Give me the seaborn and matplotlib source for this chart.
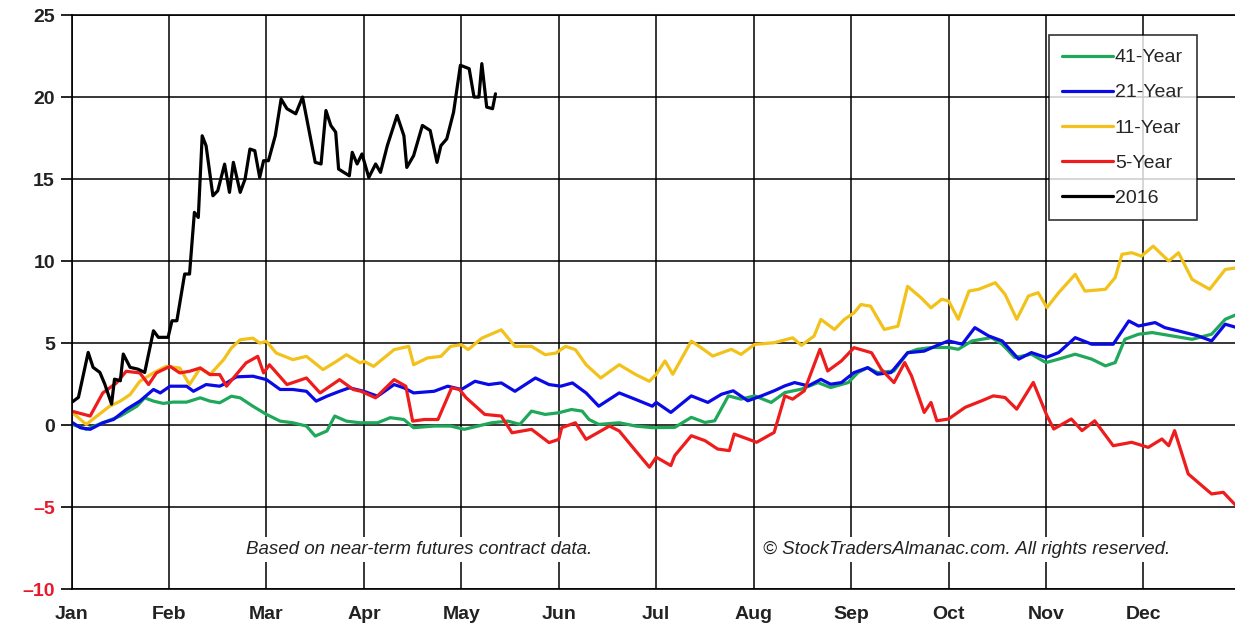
import numpy as np
import pandas as pd
import matplotlib
matplotlib.use("Agg")
import matplotlib.pyplot as plt
import seaborn as sns

# x positions are in months since Jan 1 (0 = Jan, 1 = Feb, ...)
months = ["Jan", "Feb", "Mar", "Apr", "May", "Jun", "Jul", "Aug", "Sep", "Oct", "Nov", "Dec"]

x_41 = [0, 0.15, 0.32, 0.5, 0.67, 0.75, 0.84, 0.94, 1.04, 1.18, 1.32, 1.42, 1.52, 1.64, 1.73, 1.86,
        2.0, 2.14, 2.27, 2.41, 2.5, 2.62, 2.7, 2.82, 2.96, 3.14, 3.27, 3.41, 3.51, 3.72, 3.89, 4.03,
        4.17, 4.31, 4.48, 4.6, 4.72, 4.86, 5.0, 5.13, 5.24, 5.31, 5.41, 5.62, 5.79, 5.96, 6.19, 6.36,
        6.5, 6.6, 6.74, 6.87, 7.01, 7.18, 7.32, 7.49, 7.66, 7.79, 7.97, 8.07, 8.17, 8.27, 8.44, 8.58,
        8.68, 8.83, 9.0, 9.1, 9.24, 9.44, 9.55, 9.68, 9.85, 10.0, 10.13, 10.3, 10.47, 10.61, 10.71,
        10.81, 10.95, 11.09, 11.29, 11.5, 11.7, 11.84, 11.96]
y_41 = [0.05, -0.26, 0.14, 0.55, 1.15, 1.66, 1.46, 1.32, 1.4, 1.4, 1.66, 1.46, 1.36, 1.76, 1.66, 1.15,
        0.65, 0.24, 0.14, -0.06, -0.67, -0.36, 0.55, 0.24, 0.14, 0.14, 0.45, 0.34, -0.16, -0.06, -0.06, -0.26,
        -0.06, 0.14, 0.24, 0.04, 0.85, 0.65, 0.75, 0.95, 0.85, 0.34, 0.04, 0.14, -0.06, -0.16, -0.14, 0.47,
        0.16, 0.26, 1.78, 1.58, 1.78, 1.38, 1.98, 2.19, 2.59, 2.29, 2.59, 3.2, 3.5, 3.2, 3.3, 4.41,
        4.62, 4.73, 4.73, 4.62, 5.13, 5.33, 4.93, 4.12, 4.32, 3.81, 4.02, 4.32, 4.02, 3.61, 3.81,
        5.23, 5.54, 5.64, 5.44, 5.23, 5.54, 6.45, 6.75]

x_21 = [0, 0.09, 0.19, 0.32, 0.43, 0.56, 0.7, 0.84, 0.91, 1.01, 1.18, 1.25, 1.38, 1.52, 1.59, 1.69,
        1.86, 2.0, 2.14, 2.27, 2.41, 2.51, 2.62, 2.75, 2.85, 3.0, 3.14, 3.31, 3.41, 3.51, 3.72, 3.86,
        4.0, 4.14, 4.28, 4.41, 4.55, 4.76, 4.9, 5.02, 5.14, 5.28, 5.41, 5.62, 5.79, 5.96, 6.0, 6.15,
        6.36, 6.53, 6.67, 6.79, 6.94, 7.08, 7.21, 7.32, 7.42, 7.56, 7.69, 7.79, 7.9, 8.03, 8.17, 8.27,
        8.41, 8.58, 8.75, 8.9, 9.0, 9.14, 9.27, 9.41, 9.55, 9.72, 9.85, 10.0, 10.13, 10.3, 10.47,
        10.69, 10.85, 10.95, 11.12, 11.22, 11.36, 11.56, 11.7, 11.84, 11.96]
y_21 = [0.18, -0.16, -0.26, 0.14, 0.34, 0.95, 1.46, 2.17, 1.96, 2.37, 2.37, 2.06, 2.47, 2.37, 2.57, 2.94,
        2.98, 2.77, 2.17, 2.17, 2.06, 1.46, 1.76, 2.06, 2.27, 2.06, 1.76, 2.47, 2.27, 1.96, 2.06, 2.37,
        2.17, 2.67, 2.47, 2.57, 2.06, 2.87, 2.47, 2.37, 2.57, 1.96, 1.15, 1.96, 1.56, 1.15, 1.38, 0.77,
        1.78, 1.38, 1.88, 2.09, 1.48, 1.78, 2.09, 2.39, 2.59, 2.39, 2.79, 2.49, 2.59, 3.2, 3.5, 3.1,
        3.2, 4.41, 4.51, 4.9, 5.13, 4.93, 5.94, 5.44, 5.13, 4.02, 4.42, 4.12, 4.42, 5.33, 4.93,
        4.93, 6.35, 6.04, 6.25, 5.94, 5.74, 5.44, 5.13, 6.15, 5.94]

x_11 = [0, 0.15, 0.26, 0.39, 0.5, 0.6, 0.7, 0.84, 0.97, 1.11, 1.21, 1.32, 1.42, 1.56, 1.64, 1.73,
        1.86, 1.93, 2.0, 2.1, 2.27, 2.41, 2.58, 2.72, 2.82, 2.96, 3.0, 3.1, 3.31, 3.46, 3.51, 3.65,
        3.79, 3.89, 4.0, 4.07, 4.21, 4.41, 4.55, 4.72, 4.86, 4.97, 5.07, 5.17, 5.28, 5.43, 5.62, 5.79,
        5.93, 6.0, 6.09, 6.17, 6.36, 6.46, 6.58, 6.77, 6.87, 7.01, 7.21, 7.4, 7.49, 7.62, 7.69, 7.83,
        7.93, 8.03, 8.1, 8.2, 8.34, 8.48, 8.58, 8.72, 8.82, 8.93, 9.0, 9.1, 9.21, 9.31, 9.48, 9.58,
        9.7, 9.82, 9.92, 10.01, 10.13, 10.3, 10.4, 10.61, 10.71, 10.78, 10.88, 10.98, 11.1, 11.26,
        11.36, 11.5, 11.68, 11.84, 11.96]
y_11 = [0.8, 0.04, 0.55, 1.15, 1.46, 1.86, 2.67, 3.18, 3.58, 3.48, 2.47, 3.48, 3.08, 3.99, 4.7, 5.2,
        5.3, 5.0, 5.1, 4.39, 3.99, 4.19, 3.38, 3.89, 4.29, 3.79, 3.89, 3.58, 4.6, 4.8, 3.68, 4.09,
        4.19, 4.8, 4.9, 4.6, 5.3, 5.81, 4.8, 4.8, 4.29, 4.39, 4.8, 4.6, 3.68, 2.87, 3.68, 3.08,
        2.67, 3.1, 3.91, 3.1, 5.12, 4.72, 4.21, 4.62, 4.31, 4.92, 5.02, 5.32, 4.86, 5.43, 6.44, 5.83,
        6.44, 6.84, 7.35, 7.25, 5.83, 6.03, 8.46, 7.75, 7.15, 7.67, 7.57, 6.45, 8.17, 8.28, 8.68, 7.97,
        6.45, 7.87, 8.07, 7.16, 8.07, 9.19, 8.17, 8.28, 8.99, 10.41, 10.51, 10.3, 10.91, 10.0,
        10.51, 8.88, 8.28, 9.49, 9.59]

x_5 = [0, 0.19, 0.32, 0.46, 0.56, 0.7, 0.79, 0.87, 1.01, 1.11, 1.21, 1.32, 1.42, 1.52, 1.59, 1.69,
       1.79, 1.91, 1.97, 2.03, 2.21, 2.41, 2.55, 2.75, 2.89, 2.97, 3.12, 3.31, 3.43, 3.5, 3.62, 3.76,
       3.9, 3.98, 4.05, 4.24, 4.41, 4.52, 4.72, 4.9, 5.0, 5.03, 5.17, 5.28, 5.52, 5.62, 5.79, 5.93,
       6.0, 6.15, 6.19, 6.36, 6.5, 6.63, 6.75, 6.8, 6.94, 7.03, 7.21, 7.32, 7.4, 7.52, 7.68, 7.76,
       7.9, 8.03, 8.21, 8.31, 8.44, 8.55, 8.62, 8.75, 8.82, 8.88, 9.0, 9.17, 9.34, 9.46, 9.58, 9.7,
       9.87, 10.01, 10.08, 10.26, 10.37, 10.5, 10.69, 10.88, 11.05, 11.19, 11.26, 11.32, 11.46,
       11.56, 11.7, 11.82, 11.95]
y_5 = [0.85, 0.55, 1.96, 2.57, 3.28, 3.18, 2.47, 3.18, 3.58, 3.18, 3.28, 3.48, 3.08, 3.08, 2.37, 3.08,
       3.79, 4.19, 3.18, 3.68, 2.47, 2.87, 1.96, 2.77, 2.17, 2.06, 1.66, 2.77, 2.37, 0.24, 0.34, 0.34,
       2.27, 2.17, 1.66, 0.65, 0.55, -0.47, -0.26, -1.07, -0.87, -0.16, 0.14, -0.87, -0.06, -0.36, -1.58, -2.57,
       -1.96, -2.47, -1.86, -0.65, -0.95, -1.46, -1.56, -0.55, -0.85, -1.05, -0.45, 1.78, 1.58, 2.09, 4.62, 3.3,
       3.91, 4.72, 4.41, 3.4, 2.59, 3.81, 3.0, 0.77, 1.38, 0.26, 0.37, 1.08, 1.48, 1.78, 1.68, 0.97,
       2.6, 0.57, -0.24, 0.37, -0.34, 0.26, -1.26, -1.05, -1.36, -0.85, -1.26, -0.34, -2.98,
       -3.49, -4.2, -4.1, -4.91]

x_2016 = [0, 0.07, 0.17, 0.22, 0.29, 0.34, 0.41, 0.44, 0.5, 0.53, 0.6, 0.68, 0.75, 0.84, 0.89, 0.99,
          1.03, 1.08, 1.16, 1.21, 1.26, 1.3, 1.34, 1.38, 1.45, 1.5, 1.57, 1.62, 1.66, 1.73, 1.78, 1.83,
          1.88, 1.93, 1.97, 2.02, 2.09, 2.15, 2.21, 2.3, 2.37, 2.5, 2.56, 2.61, 2.66, 2.71, 2.74, 2.85,
          2.88, 2.93, 2.98, 3.05, 3.12, 3.17, 3.24, 3.34, 3.41, 3.44, 3.51, 3.6, 3.68, 3.75, 3.79, 3.85,
          3.92, 3.99, 4.08, 4.13, 4.18, 4.21, 4.26, 4.32, 4.35]
y_2016 = [1.38, 1.69, 4.43, 3.52, 3.21, 2.5, 1.28, 2.8, 2.7, 4.33, 3.52, 3.41, 3.21, 5.75, 5.35, 5.35,
          6.36, 6.36, 9.21, 9.21, 12.97, 12.66, 17.64, 17.03, 13.98, 14.29, 15.91, 14.19, 16.02, 14.19, 15.0, 16.83,
          16.73, 15.1, 16.12, 16.12, 17.64, 19.88, 19.29, 18.98, 20.0, 16.02, 15.92, 19.18, 18.27, 17.86, 15.61, 15.2,
          16.63, 15.92, 16.53, 15.1, 15.92, 15.41, 17.04, 18.88, 17.65, 15.71, 16.43, 18.27, 17.96, 16.02, 17.04, 17.45,
          19.08, 21.94, 21.73, 20.0, 20.0, 22.04, 19.39, 19.29, 20.2]

series = [("41-Year", x_41, y_41, "#1fa85a"),
          ("21-Year", x_21, y_21, "#0a0ae6"),
          ("11-Year", x_11, y_11, "#f2c21a"),
          ("5-Year", x_5, y_5, "#ee1c1c"),
          ("2016", x_2016, y_2016, "#000000")]

sns.set_theme(style="white")
plt.rcParams["font.family"] = ["Liberation Sans", "DejaVu Sans"]

fig = plt.figure(figsize=(12.35, 6.28), dpi=100)
ax = fig.add_axes([0.058, 0.062, 0.942, 0.914])

for name, xs, ys, col in series:
    df = pd.DataFrame({"month": xs, "value": ys})
    sns.lineplot(data=df, x="month", y="value", ax=ax, color=col, linewidth=2.3,
                 label=name, sort=False, estimator=None)

ax.set_xlim(0, 11.94)
ax.set_ylim(-10, 25)
ax.set_xticks(range(12))
ax.set_xticklabels(months, fontsize=14, fontweight="bold", color="#222222")
ax.set_yticks(range(-10, 26, 5))
ax.set_yticklabels([str(v).replace("-", "\u2013") for v in range(-10, 26, 5)],
                   fontsize=14, fontweight="bold")
for lab, v in zip(ax.get_yticklabels(), range(-10, 26, 5)):
    lab.set_color("#e8192c" if v < 0 else "#222222")
ax.tick_params(axis="x", length=0, pad=12)
ax.tick_params(axis="y", length=8, width=1.2, color="black", direction="out", pad=4, left=True)
ax.grid(True, color="black", linewidth=1.1)
ax.set_axisbelow(True)
ax.set_xlabel("")
ax.set_ylabel("")
for side in ["left", "top", "bottom"]:
    ax.spines[side].set_color("black")
    ax.spines[side].set_linewidth(1.2)
ax.spines["right"].set_visible(False)

ax.text(3.57, -7.6, "Based on near-term futures contract data.", fontsize=13.5, style="italic",
        ha="center", va="center", color="#222222",
        bbox=dict(facecolor="white", edgecolor="none", pad=3))
ax.text(9.19, -7.6, "\u00a9 StockTradersAlmanac.com. All rights reserved.", fontsize=13.5, style="italic",
        ha="center", va="center", color="#222222",
        bbox=dict(facecolor="white", edgecolor="none", pad=3))

leg = ax.legend(loc="upper right", bbox_to_anchor=(0.967, 0.965), borderaxespad=0,
                fontsize=14, frameon=True,
                fancybox=False, edgecolor="black", handlelength=2.6, handletextpad=0.1,
                labelspacing=0.9, borderpad=0.7)
leg.get_frame().set_linewidth(1.2)
for line in leg.get_lines():
    line.set_linewidth(2.3)

fig.savefig("out.png", dpi=100)
